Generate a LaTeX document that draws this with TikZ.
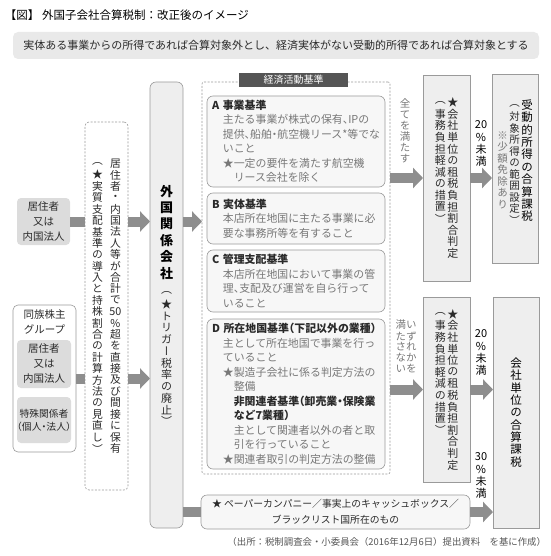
\documentclass[tikz,border=0pt]{standalone}
\usepackage{fontspec}
\setmainfont{Noto Sans CJK JP}
\newfontfamily\tatefont{Noto Sans CJK JP}[RawFeature=+vert]
\usetikzlibrary{arrows.meta}
\usepackage[dvipsnames]{xcolor}

\definecolor{arrowgray}{HTML}{8E8E8E}
\definecolor{linegray}{HTML}{9A9A9A}
\definecolor{boxgray}{HTML}{EEEEEE}
\definecolor{palegray}{HTML}{F7F7F7}
\definecolor{residgray}{HTML}{DCDCDC}
\definecolor{bannergray}{HTML}{E9E9E9}
\definecolor{labelgray}{HTML}{555555}
\definecolor{bodygray}{HTML}{787878}
\definecolor{inkgray}{HTML}{2A2A2A}

\makeatletter
% vertical writing: one character per cell
\newcommand\tate[2][1.05em]{\vtop{\tatefont\offinterlineskip
  \@tfor\tatech:=#2\do{\vbox to #1{\vss\hbox to 1em{\hss\tatech\hss}\vss}}}}
\makeatother
\newcommand\kijun[1]{{\color{inkgray}\bfseries #1}}
\newcommand\ten{\makebox[0.5em][l]{、}}
\newcommand\naka{\makebox[0.5em][c]{・}}
\newcommand\kakko[1]{\makebox[0.5em][r]{（}#1\makebox[0.5em][l]{）}}

\begin{document}
\begin{tikzpicture}[x=1pt, y=-1pt,
    every node/.style={inner sep=0pt, outer sep=0pt, text=inkgray},
    graybox/.style={draw=linegray, fill=boxgray, line width=0.6pt},
    roundbox/.style={draw=linegray, fill=palegray, line width=0.6pt, rounded corners=6pt},
    residbox/.style={
        fill=residgray,       % no border, only the grey fill
        rounded corners=4pt,
        align=center,
        font=\fontsize{10.5}{15}\selectfont
    },
    dashbox/.style={draw=linegray, dash pattern=on 2pt off 1.5pt, line width=0.6pt},
    critbox/.style={
        roundbox,
        minimum width=178,
        text width=168,       % lines are broken by hand
        align=left,
        text=bodygray,
        font=\fontsize{10.9}{14.5}\selectfont
    },
    fatbar/.style={draw=arrowgray, line width=10pt},
    fatarrow/.style={fatbar, -{Triangle[width=20pt,length=10pt]}},
    tatelabel/.style={text=bodygray, font=\fontsize{10.5}{11}\selectfont},
    ritsu/.style={text=black, font=\fontsize{11}{12}\selectfont}
]
\useasboundingbox (0,0) rectangle (550,556);

\node[anchor=west, text=black, font=\fontsize{11.5}{14}\selectfont] (title) at (5,15)
    {【図】 外国子会社合算税制：改正後のイメージ};
\node[fill=bannergray, rounded corners=5pt, minimum width=526, minimum height=27,
    font=\fontsize{11}{13}\selectfont] (banner) at (276,45.5)
    {実体ある事業からの所得であれば合算対象外とし、経済実体がない受動的所得であれば合算対象とする};

% shareholders
\node[residbox, minimum width=53, minimum height=47] (resid) at (43.5,221.5) {居住者\\又は\\内国法人};
\node[draw=linegray, fill=white, rounded corners=5pt, line width=0.6pt,
    minimum width=63, minimum height=147,
    label={[anchor=north, yshift=-5pt, align=center, font=\fontsize{10.5}{15}\selectfont]north:同族株主\\グループ}]
    (group) at (44.5,378.5) {};
\node[residbox, minimum width=54, minimum height=48] (groupresid) at (44,364) {居住者\\又は\\内国法人};
\node[residbox, minimum width=54, minimum height=46, font=\fontsize{9.8}{13}\selectfont]
    (related) at (44,420) {特殊関係者\\\kakko{個人\naka 法人}};

\node[dashbox, rounded corners=4pt, minimum width=43, minimum height=368,
    font=\fontsize{10.8}{11}\selectfont] (hold) at (106.5,306)
    {\tate[11.4pt]{（★実質支配基準の導入と持株割合の計算方法の見直し）}\hspace{7pt}%
     \tate[11.4pt]{居住者・内国法人等が合計で{50}\%超を直接及び間接に保有}};

\node[graybox, rounded corners=6pt, minimum width=33, minimum height=446] (kaisha) at (166.5,305)
    {\vbox{\offinterlineskip
      \hbox to 14pt{\hss\fontsize{13}{16}\selectfont\bfseries\color{black}\tate[16.5pt]{外国関係会社}\hss}
      \vskip 5pt
      \hbox to 14pt{\hss\fontsize{11}{12}\selectfont\tate[11.7pt]{（★トリガー税率の廃止）}\hss}}};

% economic activity tests
\node[dashbox, rounded corners=2pt, minimum width=188, minimum height=392,
    label={[anchor=center, xshift=-2.5pt, yshift=2pt, fill=labelgray, text=white,
        minimum width=109, minimum height=14, font=\fontsize{10}{12}\selectfont]north:経済活動基準}]
    (frame) at (296,278) {};
\node[critbox, minimum height=91] (testa) at (296,141.5)
    {\kijun{A 事業基準}\\
     \hspace*{1em}主たる事業が株式の保有\ten IPの\\
     \hspace*{1em}提供\ten 船舶\naka 航空機リース*等でな\\
     \hspace*{1em}いこと\\
     \hspace*{1em}★一定の要件を満たす航空機\\
     \hspace*{2em}リース会社を除く};
\node[critbox, minimum height=51] (testb) at (296,218.5)
    {\kijun{B 実体基準}\\
     \hspace*{1em}本店所在地国に主たる事業に必\\
     \hspace*{1em}要な事務所等を有すること};
\node[critbox, minimum height=62] (testc) at (296,281)
    {\kijun{C 管理支配基準}\\
     \hspace*{1em}本店所在地国において事業の管\\
     \hspace*{1em}理\ten 支配及び運営を自ら行って\\
     \hspace*{1em}いること};
\node[critbox, minimum height=150] (testd) at (296,394)
    {\kijun{D 所在地国基準\kakko{下記以外の業種}}\\
     \hspace*{1em}主として所在地国で事業を行っ\\
     \hspace*{1em}ていること\\
     \hspace*{1em}★製造子会社に係る判定方法の\\
     \hspace*{2em}整備\\
     \hspace*{2em}\kijun{非関連者基準\makebox[0.5em][r]{（}卸売業\naka 保険業}\\
     \hspace*{2em}\kijun{など7業種\makebox[0.5em][l]{）}}\\
     \hspace*{2em}主として関連者以外の者と取\\
     \hspace*{2em}引を行っていること\\
     \hspace*{1em}★関連者取引の判定方法の整備};

% tax burden ratio and results
\node[graybox, minimum width=47, minimum height=206, font=\fontsize{11}{12}\selectfont] (ratioup) at (446.5,178)
    {\tate[11.6pt]{（事務負担軽減の措置）}\hspace{1.5pt}\tate[11.6pt]{★会社単位の租税負担割合判定}};
\node[graybox, minimum width=47, minimum height=185, font=\fontsize{11}{12}\selectfont] (ratiolow) at (446.5,389.5)
    {\tate[11.6pt]{（事務負担軽減の措置）}\hspace{1.5pt}\tate[11.6pt]{★会社単位の租税負担割合判定}};
\node[graybox, minimum width=46, minimum height=189, font=\fontsize{10.5}{12}\selectfont] (passive) at (515,168.5)
    {\raisebox{0pt}[\height][\dimexpr\depth+12pt]{%
     \raisebox{-30pt}{\color{bodygray}\tate[11.5pt]{※少額免除あり}}\hspace{1.5pt}%
     \tate[11.5pt]{（対象所得の範囲設定）}\hspace{1.5pt}%
     {\fontsize{11.5}{12}\selectfont\color{black}\tate[12.4pt]{受動的所得の合算課税}}}};
\node[graybox, minimum width=46, minimum height=231, text=black, font=\fontsize{11.5}{12}\selectfont]
    (combined) at (516,412.5) {\tate[12.4pt]{会社単位の合算課税}};

\node[roundbox, minimum width=269, minimum height=34, align=center, font=\fontsize{9.8}{16}\selectfont]
    (paper) at (335.5,512) {★ ペーパーカンパニー／事実上のキャッシュボックス／\\ブラックリスト国所在のもの};

\node[tatelabel] (allmet) at (405,131) {\tate[11pt]{全てを満たす}};
\node[tatelabel] (notmet) at (406,347) {\tate[11pt]{満たさない}\tate[11pt]{いずれかを}};
\node[ritsu] (underup) at (481,143) {\tate[12pt]{{20}\%未満}};
\node[ritsu] (underlow) at (481,352) {\tate[12pt]{{20}\%未満}};
\node[ritsu] (underthirty) at (481,475) {\tate[12pt]{{30}\%未満}};

\node[anchor=east, text=labelgray, font=\fontsize{9.4}{11}\selectfont] (source) at (546,542)
    {（出所：税制調査会・小委員会（2016年12月6日）提出資料　を基に作成）};

% connectors
\draw[fatbar] (resid.east) -- (resid.east -| hold.west);
\draw[fatarrow] (hold.east |- resid.east) -- (kaisha.west |- resid.east);
\draw[fatbar] (group.east) -- (group.east -| hold.west);
\draw[fatarrow] (hold.east |- group.east) -- (kaisha.west |- group.east);
\draw[fatarrow] (kaisha.east |- resid.east) -- (frame.west |- resid.east);
\draw[fatarrow] (frame.east |- ratioup.west) -- (ratioup.west);
\draw[fatarrow] (ratioup.east) -- (ratioup.east -| passive.west);
\draw[fatarrow] (frame.east |- ratiolow.west) -- (ratiolow.west);
\draw[fatarrow] (ratiolow.east) -- (ratiolow.east -| combined.west);
\draw[fatbar] (kaisha.east |- paper.west) -- (paper.west);
\draw[fatarrow] (paper.east) -- (paper.east -| combined.west);
\end{tikzpicture}
\end{document}
